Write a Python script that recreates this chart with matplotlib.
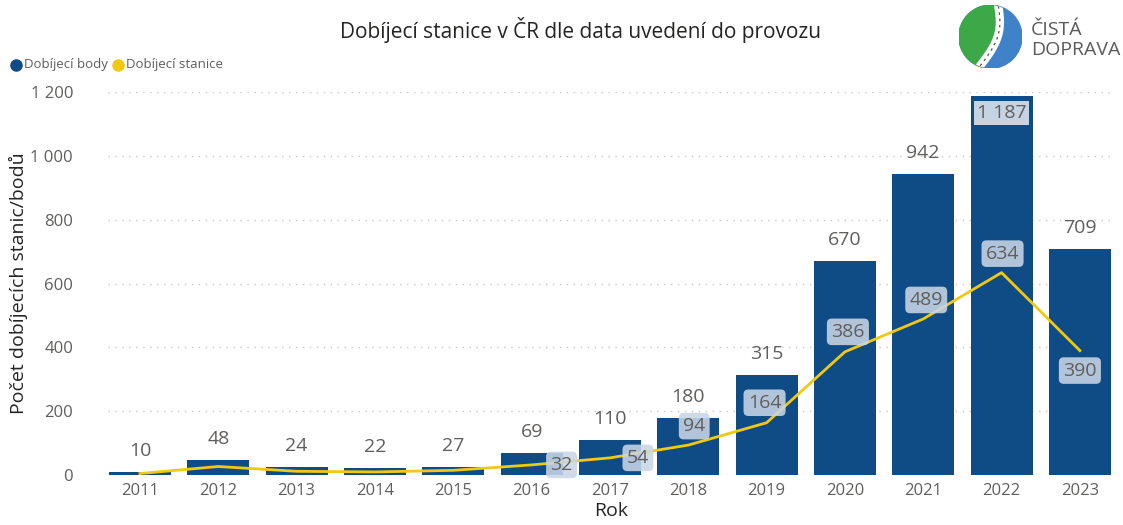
import numpy as np
import matplotlib.pyplot as plt
from matplotlib.patches import Circle
from matplotlib.lines import Line2D
from matplotlib.ticker import FuncFormatter

plt.rcParams['font.family'] = ['Open Sans', 'DejaVu Sans']

# data
roky = ['2011', '2012', '2013', '2014', '2015', '2016', '2017',
        '2018', '2019', '2020', '2021', '2022', '2023']
body = [10, 48, 24, 22, 27, 69, 110, 180, 315, 670, 942, 1187, 709]
stanice = [5, 27, 12, 10, 15, 32, 54, 94, 164, 386, 489, 634, 390]

# label offsets for line labels (pixels, up = +), None = no label
line_lbl_off = [None, None, None, None, None, (30, 0), (28, 0), (6, 19),
                (-2, 20), (3, 20), (3, 19), (1, 19), (0, -20)]

blue = '#0F4C85'
yellow = '#F2C811'
grey = '#605E5C'

fig = plt.figure(figsize=(11.23, 5.25), dpi=100)
ax = fig.add_axes([0.096, 0.095, 0.897, 0.73])

x = np.arange(len(roky))
ax.bar(x, body, width=0.79, color=blue, zorder=2)
ax.plot(x, stanice, color=yellow, lw=2, zorder=3)

def fmt(v):
    return f'{v:,}'.replace(',', ' ')

for i, v in enumerate(body):
    if v > 1100:
        ax.annotate(fmt(v), (x[i], v), xytext=(0, -17), textcoords='offset pixels',
                    ha='center', va='center', fontsize=14, color=grey, zorder=5,
                    bbox=dict(boxstyle='square,pad=0.15', fc='#C5D3E3', ec='none'))
    else:
        ax.annotate(fmt(v), (x[i], v), xytext=(0, 21), textcoords='offset pixels',
                    ha='center', va='center', fontsize=14, color=grey, zorder=5)

for i, v in enumerate(stanice):
    off = line_lbl_off[i]
    if off is None:
        continue
    ax.annotate(fmt(v), (x[i], v), xytext=off,
                textcoords='offset pixels', ha='center', va='center', fontsize=14,
                color=grey, zorder=6,
                bbox=dict(boxstyle='round,pad=0.22,rounding_size=0.25', fc='#C9D6E5',
                          ec='none', alpha=0.88))

ax.set_ylim(0, 1200)
ax.set_xlim(-0.41, 12.45)
ax.set_yticks(np.arange(0, 1201, 200))
ax.yaxis.set_major_formatter(FuncFormatter(lambda v, p: fmt(int(v))))
ax.set_xticks(x)
ax.set_xticklabels(roky)
ax.tick_params(length=0, labelsize=12, colors=grey, pad=6)
ax.tick_params(axis='y', pad=25)
ax.grid(axis='y', ls=(0, (1, 4)), color='#C8C6C4', lw=1, zorder=0)
for s in ax.spines.values():
    s.set_visible(False)

ax.set_xlabel('Rok', fontsize=14, color='#252423', labelpad=2)
ax.set_ylabel('Počet dobíjecích stanic/bodů', fontsize=14, color='#252423', labelpad=2)

fig.text(0.517, 0.942, 'Dobíjecí stanice v ČR dle data uvedení do provozu',
         ha='center', va='center', fontsize=15, color='#252423')

# legend
ly = 0.877
fig.add_artist(Line2D([0.0142], [ly], marker='o', ms=8, color=blue, lw=0,
                      transform=fig.transFigure))
fig.add_artist(Line2D([0.1055], [ly], marker='o', ms=8, color=yellow, lw=0,
                      transform=fig.transFigure))
fig.text(0.021, ly, 'Dobíjecí body', color=grey, fontsize=9.5, va='center')
fig.text(0.1125, ly, 'Dobíjecí stanice', color=grey, fontsize=9.5, va='center')

# logo
lax = fig.add_axes([0.852, 0.87, 0.06, 0.12])
lax.set_xlim(-1, 1)
lax.set_ylim(-1, 1)
lax.set_aspect('equal')
lax.axis('off')
circ = Circle((0, 0), 1, color='#3F82C8')
lax.add_patch(circ)
t = np.linspace(0, 1, 60)
rx = 0.25 - 0.6 * t + 0.28 * np.sin(np.pi * t)
ry = 0.97 - 1.92 * t
a0 = np.degrees(np.arctan2(ry[-1], rx[-1])) % 360
a1 = np.degrees(np.arctan2(ry[0], rx[0]))
arc = np.radians(np.linspace(a0, a1, 60))
gx = np.concatenate([rx, np.cos(arc)])
gy = np.concatenate([ry, np.sin(arc)])
lax.fill(gx, gy, color='#3DA847')
road, = lax.plot(rx, ry, color='white', lw=6)
road.set_clip_path(circ)
dash, = lax.plot(rx, ry, color='#555555', lw=0.9, ls=(0, (2, 3)))
dash.set_clip_path(circ)
fig.text(0.918, 0.942, 'ČISTÁ', fontsize=14, color='#5A5A5A', va='center')
fig.text(0.918, 0.905, 'DOPRAVA', fontsize=14, color='#5A5A5A', va='center')

fig.savefig('out.png', dpi=100)
